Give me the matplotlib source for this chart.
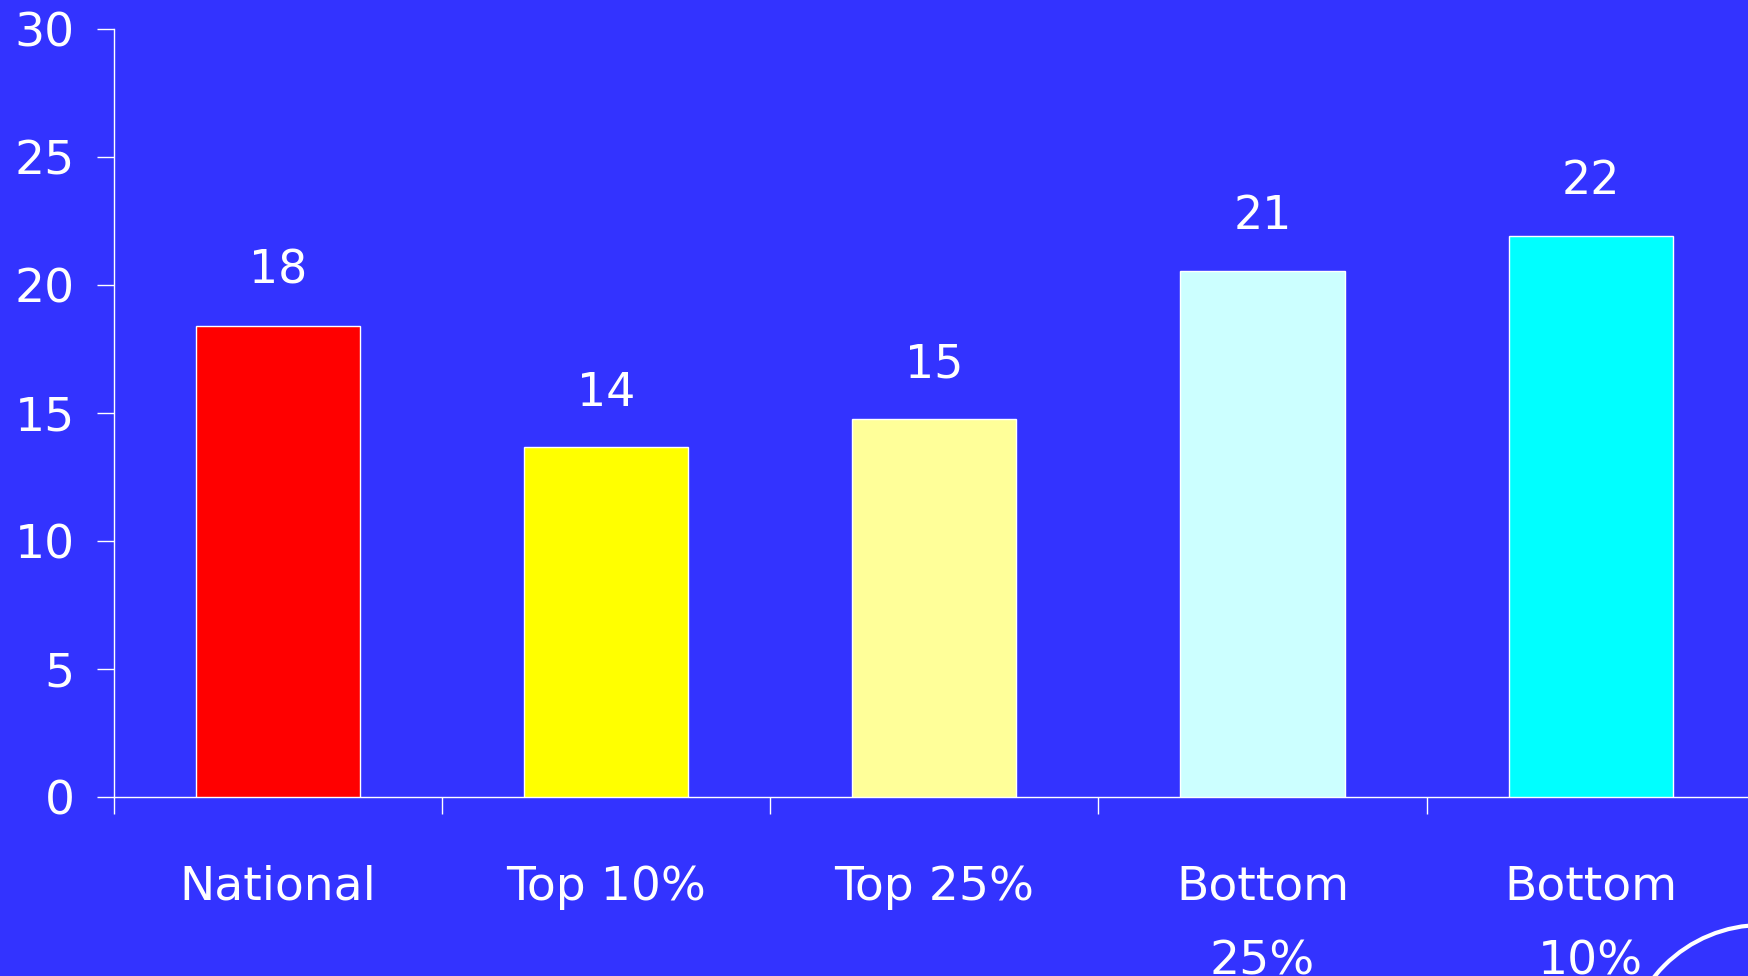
import matplotlib
matplotlib.use("Agg")
import matplotlib.pyplot as plt
from matplotlib.patches import Ellipse
import numpy as np

categories = ["National", "Top 10%", "Top 25%", "Bottom\n25%", "Bottom\n10%"]
values = [18.4, 13.65, 14.75, 20.55, 21.9]
value_labels = ["18", "14", "15", "21", "22"]
bar_colors = ["#FF0000", "#FFFF00", "#FFFF99", "#CCFFFF", "#00FFFF"]
yticks = [0, 5, 10, 15, 20, 25, 30]

BG = "#3333FF"
W, H = 1749, 976
fig = plt.figure(figsize=(W / 100, H / 100), dpi=100, facecolor=BG)
plt.rcParams['font.family'] = ['DejaVu Sans']

left = 113.8 / W
right_px = 113.8 + 5 * 328.2
bottom = (H - 796.7) / H
height = (796.7 - 28.7) / H
ax = fig.add_axes([left, bottom, (right_px - 113.8) / W, height], facecolor=BG)

x = np.arange(len(categories))
ax.bar(x, values, width=0.5, color=bar_colors, edgecolor="white", linewidth=1.0, zorder=3)

for xi, v, lab in zip(x, values, value_labels):
    ax.annotate(lab, (xi, v), xytext=(0, 39), textcoords="offset points",
                ha="center", va="center", color="white", fontsize=33)

ax.set_xlim(-0.5, len(categories) - 0.5)
ax.set_ylim(0, 30)
ax.set_yticks(yticks)
ax.set_yticklabels([str(t) for t in yticks])

ax.set_xticks(np.arange(len(categories) + 1) - 0.5)
ax.set_xticklabels([])
ax.set_xticks(x, minor=True)
ax.set_xticklabels(categories, minor=True, linespacing=1.85)

for s in ["top", "right"]:
    ax.spines[s].set_visible(False)
for s in ["left", "bottom"]:
    ax.spines[s].set_color("white")
    ax.spines[s].set_linewidth(1.0)

ax.tick_params(axis="y", which="major", length=12, width=1.0, color="white",
               labelcolor="white", labelsize=34, pad=16, direction="out")
ax.tick_params(axis="x", which="major", length=12, width=1.0, color="white", direction="out")
ax.tick_params(axis="x", which="minor", length=0, labelcolor="white", labelsize=34, pad=49)

# decorative arc in the lower right corner
r = 138
cx, cy = 1762, H - 1063
fig.add_artist(Ellipse((cx / W, cy / H), 2 * r / W, 2 * r / H, transform=fig.transFigure,
                       fill=False, edgecolor="white", linewidth=3.0, clip_on=False))

fig.savefig("out.png", dpi=100, facecolor=BG)
